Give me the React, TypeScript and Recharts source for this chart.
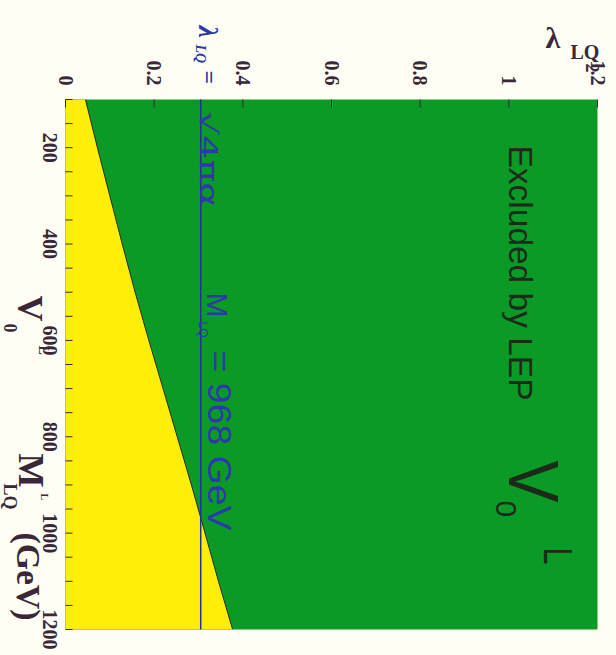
import React from "react";
import {
  AreaChart,
  Area,
  XAxis,
  YAxis,
  CartesianGrid,
  ReferenceLine,
} from "recharts";

// leptoquark mass (GeV) vs coupling limit lambda
const massGeV = [100, 200, 300, 400, 500, 600, 700, 800, 900, 968, 1100, 1200];
const lambdaLimit = [0.045, 0.072, 0.1, 0.128, 0.157, 0.188, 0.22, 0.252, 0.284, 0.305, 0.345, 0.377];

const massTicks = [
  100, 150, 200, 250, 300, 350, 400, 450, 500, 550, 600, 650, 700, 750, 800,
  850, 900, 950, 1000, 1050, 1100, 1150, 1200,
];
const massLabels = [200, 400, 600, 800, 1000, 1200];
const lambdaTicks = [0, 0.2, 0.4, 0.6, 0.8, 1, 1.2];

const lambdaEm = 0.305; // sqrt(4 pi alpha)

const COLORS = {
  bg: "#fffef4",
  green: "#0c9a26",
  yellow: "#ffee08",
  boundary: "#2a2a1c",
  blue: "#2b3aa8",
  blueLine: "#22309a",
  ink: "#3a2838",
  dark: "#1c2a1c",
};

const serif = "'Liberation Serif', 'DejaVu Serif', serif";
const sans = "'Liberation Sans', Arial, sans-serif";

const data = massGeV.map((m, i) => ({ m, lam: lambdaLimit[i] }));

function MassTick(props: any) {
  const { x, y, payload } = props;
  const v = payload.value;
  return (
    <g>
      <line x1={x} y1={y} x2={x} y2={y - 7} stroke={COLORS.ink} strokeWidth={1} />
      {massLabels.includes(v) && (
        <text x={x} y={y + 23} textAnchor="middle" fontFamily={serif} fontWeight="bold" fontSize={20} fill={COLORS.ink}>
          {v}
        </text>
      )}
    </g>
  );
}

function LambdaTick(props: any) {
  const { x, y, payload } = props;
  return (
    <g>
      <line x1={x} y1={y} x2={x + 8} y2={y} stroke={COLORS.ink} strokeWidth={1} />
      <text x={x - 14} y={y} dy="0.35em" textAnchor="end" fontFamily={serif} fontWeight="bold" fontSize={20} fill={COLORS.ink}>
        {String(payload.value)}
      </text>
    </g>
  );
}

const W = 655;
const H = 616;

export default function App() {
  return (
    <div style={{ position: "absolute", left: 0, top: 0, width: 616, height: 655, background: COLORS.bg, overflow: "hidden" }}>
      <div
        style={{
          position: "absolute",
          width: W,
          height: H,
          left: (616 - W) / 2,
          top: (655 - H) / 2,
          transform: "rotate(90deg)",
        }}
      >
        <AreaChart width={W} height={H} data={data} margin={{ top: 19, right: 26, bottom: 25, left: 39 }}>
          <CartesianGrid horizontal={false} vertical={false} fill={COLORS.green} fillOpacity={1} />
          <XAxis
            dataKey="m"
            type="number"
            domain={[100, 1200]}
            ticks={massTicks}
            interval={0}
            allowDataOverflow
            height={40}
            tickSize={0}
            tickMargin={0}
            axisLine={false}
            tickLine={false}
            tick={<MassTick />}
          />
          <YAxis
            type="number"
            domain={[0, 1.2]}
            ticks={lambdaTicks}
            interval={0}
            allowDataOverflow
            width={60}
            tickSize={0}
            tickMargin={0}
            axisLine={false}
            tickLine={false}
            tick={<LambdaTick />}
          />
          <Area
            type="linear"
            dataKey="lam"
            baseValue={0}
            fill={COLORS.yellow}
            fillOpacity={1}
            stroke={COLORS.boundary}
            strokeWidth={1}
            dot={false}
            activeDot={false}
            isAnimationActive={false}
          />
          <ReferenceLine y={lambdaEm} stroke={COLORS.blueLine} strokeWidth={1.5} />
        </AreaChart>

        <svg width={W} height={H} style={{ position: "absolute", left: 0, top: 0, pointerEvents: "none" }}>
          {/* in-plot labels */}
          <text x={145} y={108} fontFamily={sans} fontSize={34} textLength={255} lengthAdjust="spacingAndGlyphs" fill={COLORS.dark}>
            Excluded by LEP
          </text>
          <text x={460} y={108} fontFamily={sans} fontSize={70} textLength={42} lengthAdjust="spacingAndGlyphs" fill={COLORS.dark}>
            V
          </text>
          <text x={500} y={121} fontFamily={sans} fontSize={30} fill={COLORS.dark}>0</text>
          <text x={547} y={73} fontFamily={sans} fontSize={40} textLength={17} lengthAdjust="spacingAndGlyphs" fill={COLORS.dark}>L</text>

          {/* blue coupling line labels */}
          <text x={25} y={418} fontFamily={serif} fontStyle="italic" fontWeight="bold" fontSize={28} fill={COLORS.blue}>λ</text>
          <text x={44} y={421} fontFamily={serif} fontStyle="italic" fontWeight="bold" fontSize={14} fill={COLORS.blue}>LQ</text>
          <text x={70} y={416} fontFamily={serif} fontWeight="bold" fontSize={24} fill={COLORS.blue}>=</text>
          <text x={110} y={417} fontFamily="'DejaVu Sans', sans-serif" fontSize={24} textLength={97} lengthAdjust="spacingAndGlyphs" fill={COLORS.blue}>
            √4πα
          </text>
          <text x={292} y={410} fontFamily={sans} fontSize={30} fill={COLORS.blue}>M</text>
          <text x={321} y={418} fontFamily={sans} fontSize={12} fill={COLORS.blue}>LQ</text>
          <text x={350} y={409} fontFamily={sans} fontSize={33} textLength={180} lengthAdjust="spacingAndGlyphs" fill={COLORS.blue}>
            = 968 GeV
          </text>

          {/* lambda axis title */}
          <text transform="translate(47,71) rotate(-90)" fontFamily={serif} fontWeight="bold" fontSize={30} fill={COLORS.ink}>λ</text>
          <text transform="translate(58,46) rotate(-90)" fontFamily={serif} fontWeight="bold" fontSize={20} fill={COLORS.ink}>LQ</text>
          <text x={63} y={31} fontFamily={serif} fontWeight="bold" fontSize={18} fill={COLORS.ink}>2</text>

          {/* mass axis title */}
          <text x={295} y={599} fontFamily={serif} fontWeight="bold" fontSize={36} fill={COLORS.ink}>V</text>
          <text x={323} y={613} fontFamily={serif} fontWeight="bold" fontSize={18} fill={COLORS.ink}>0</text>
          <text x={345} y={578} fontFamily={serif} fontWeight="bold" fontSize={14} fill={COLORS.ink}>L</text>
          <text x={453} y={598} fontFamily={serif} fontWeight="bold" fontSize={36} fill={COLORS.ink}>M</text>
          <text x={483} y={613} fontFamily={serif} fontWeight="bold" fontSize={18} fill={COLORS.ink}>LQ</text>
          <text x={493} y={576} fontFamily={serif} fontWeight="bold" fontSize={10} fill={COLORS.ink}>L</text>
          <text x={532} y={600} fontFamily={serif} fontWeight="bold" fontSize={34} textLength={88} lengthAdjust="spacingAndGlyphs" fill={COLORS.ink}>
            (GeV)
          </text>
        </svg>
      </div>
    </div>
  );
}
